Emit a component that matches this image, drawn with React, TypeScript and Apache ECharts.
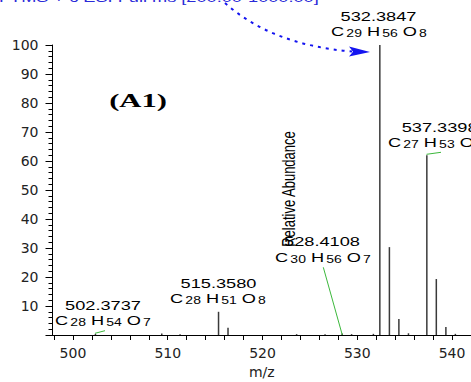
import React, { useEffect, useRef } from "react";
import * as echarts from "echarts";

// Peak list: m/z and relative abundance (%)
const peakMz = [502.37, 509.37, 511.3, 515.36, 516.36, 523.6, 526.6, 528.41, 529.4, 531.7, 532.38, 533.39, 534.39, 535.4, 537.34, 538.34, 539.35, 540.35];
const peakAbundance = [0.4, 0.5, 0.3, 8.0, 2.5, 0.3, 0.3, 0.5, 0.3, 0.4, 100, 30.3, 5.5, 0.6, 62, 19.3, 2.8, 0.4];

const xMin = 497.84;
const xMax = 542;
const xLabelValues = [500, 510, 520, 530, 540];
const xTickValues = [498, 500, 502, 504, 506, 508, 510, 512, 514, 516, 518, 520, 522, 524, 526, 528, 530, 532, 534, 536, 538, 540, 542];
const yMin = 0;
const yMax = 100;
const yStep = 10;

const annotationMasses = ["532.3847", "537.3398", "528.4108", "515.3580", "502.3737"];
const formulas = [
  ["29", "56", "8"],
  ["27", "53", "8"],
  ["30", "56", "7"],
  ["28", "51", "8"],
  ["28", "54", "7"],
];

const titleText = "FTMS + c ESI Full ms [200.00-1000.00]";
const panelLabel = "(A1)";
const yName = "Relative Abundance";
const xName = "m/z";

const FONT = "'Liberation Sans', Arial, sans-serif";
const AXFONT = "'DejaVu Sans', sans-serif";
const SX = 1.4;
const GRID = { left: 52.5, right: 0, top: 45, bottom: 47, containLabel: false, outerBoundsMode: "none" };

const rich = {
  n: { fontSize: 13, lineHeight: 15, fontFamily: FONT, fill: "#000", verticalAlign: "middle" },
  s: { fontSize: 10, lineHeight: 10, fontFamily: FONT, fill: "#000", verticalAlign: "bottom", padding: [0, 0, 0, 1.5] },
};

function formulaText(f: string[]) {
  return `{n|C}{s|${f[0]}}{n| H}{s|${f[1]}}{n| O}{s|${f[2]}}`;
}

function massLabel(text: string, x: number, y: number, align: string) {
  return {
    type: "text",
    x,
    y,
    scaleX: SX,
    z: 10,
    style: { text, fontSize: 13, fontFamily: FONT, fill: "#000", align, verticalAlign: "middle" },
  };
}

function formulaLabel(f: string[], x: number, y: number, align: string) {
  return {
    type: "text",
    x,
    y,
    scaleX: SX,
    z: 10,
    style: { text: formulaText(f), rich, align, verticalAlign: "middle", fontSize: 13, fontFamily: FONT },
  };
}

function greenLine(x1: number, y1: number, x2: number, y2: number) {
  return {
    type: "line",
    z: 9,
    shape: { x1, y1, x2, y2 },
    style: { stroke: "#3cb83c", lineWidth: 1 },
  };
}

export default function App() {
  const ref = useRef<HTMLDivElement>(null);
  const tickRef = useRef<HTMLDivElement>(null);

  useEffect(() => {
    if (!ref.current || !tickRef.current) return;
    const chart = echarts.init(ref.current, null, { renderer: "svg" });
    const data = peakMz.map((m, i) => [m, peakAbundance[i]]);

    chart.setOption({
      animation: false,
      backgroundColor: "#ffffff",
      grid: GRID,
      xAxis: {
        type: "value",
        min: xMin,
        max: xMax,
        name: xName,
        nameLocation: "middle",
        nameGap: 30,
        nameTextStyle: { fontFamily: AXFONT, fontSize: 14, color: "#222" },
        axisLine: { show: true, onZero: false, lineStyle: { color: "#000", width: 1 } },
        axisTick: { show: true, inside: false, customValues: xTickValues, length: 5, lineStyle: { color: "#000", width: 1 } },
        axisLabel: {
          show: true,
          customValues: xLabelValues,
          margin: 11,
          fontFamily: AXFONT,
          fontSize: 14,
          color: "#222",
        },
        splitLine: { show: false },
      },
      yAxis: {
        type: "value",
        min: yMin,
        max: yMax,
        interval: yStep,
        axisLine: { show: true, onZero: false, lineStyle: { color: "#000", width: 1 } },
        axisTick: { show: false },
        axisLabel: {
          show: true,
          margin: 14,
          fontFamily: AXFONT,
          fontSize: 14,
          color: "#222",
          formatter: (v: number) => (v === 0 ? "" : String(v)),
        },
        splitLine: { show: false },
      },
      series: [
        {
          type: "bar",
          data,
          barWidth: 1.5,
          itemStyle: { color: "#3a3a3a" },
        },
      ],
      graphic: [
        {
          type: "text",
          x: -1,
          y: -2.5,
          scaleX: SX,
          style: { text: titleText, fontSize: 13, fontFamily: FONT, fill: "#2a2ad8", align: "left", verticalAlign: "middle" },
        },
        {
          type: "bezierCurve",
          shape: { x1: 225, y1: 3, cpx1: 272, cpy1: 45, x2: 352, y2: 51.5 },
          style: { stroke: "#1414f0", lineWidth: 2, lineDash: [3, 5], fill: null },
        },
        {
          type: "polygon",
          shape: { points: [[349, 46.5], [370, 52], [349, 56.5], [353, 51.7]] },
          style: { fill: "#1414f0" },
        },
        {
          type: "text",
          x: 138,
          y: 101,
          scaleX: 1.7,
          style: {
            text: panelLabel,
            fontSize: 18,
            fontWeight: "bold",
            fontFamily: "'Liberation Serif', 'Times New Roman', serif",
            fill: "#000",
            align: "center",
            verticalAlign: "middle",
          },
        },
        {
          type: "group",
          x: 289,
          y: 189,
          scaleX: SX,
          z: 11,
          children: [
            {
              type: "text",
              x: 0,
              y: 0,
              rotation: Math.PI / 2,
              style: { text: yName, fontSize: 13, fontFamily: FONT, fill: "#000", align: "center", verticalAlign: "middle" },
            },
          ],
        },
        massLabel(annotationMasses[0], 378.5, 16, "center"),
        formulaLabel(formulas[0], 379, 31.5, "center"),
        massLabel(annotationMasses[1], 401.7, 127, "left"),
        formulaLabel(formulas[1], 388, 142, "left"),
        massLabel(annotationMasses[2], 322, 241, "center"),
        formulaLabel(formulas[2], 323, 257, "center"),
        massLabel(annotationMasses[3], 218.5, 283, "center"),
        formulaLabel(formulas[3], 218, 298, "center"),
        massLabel(annotationMasses[4], 103, 305, "center"),
        formulaLabel(formulas[4], 103, 320.5, "center"),
        greenLine(95, 333.3, 105, 330.7),
        greenLine(323.3, 267.3, 342.3, 335),
        greenLine(426.5, 154.3, 441, 152.3),
      ],
    });

    // Overlay chart carrying only the y-axis ticks (same grid and scales)
    const tickChart = echarts.init(tickRef.current, null, { renderer: "svg" });
    tickChart.setOption({
      animation: false,
      grid: GRID,
      xAxis: {
        type: "value",
        min: xMin,
        max: xMax,
        axisLine: { show: false },
        axisTick: { show: false },
        axisLabel: { show: false },
        splitLine: { show: true, lineStyle: { color: "rgba(0,0,0,0)" } },
      },
      yAxis: {
        type: "value",
        min: yMin,
        max: yMax,
        interval: yStep,
        axisLine: { show: false, onZero: false },
        axisTick: { show: true, inside: false, length: 7, lineStyle: { color: "#000", width: 1 } },
        minorTick: { show: true, splitNumber: 5, length: 4, lineStyle: { color: "#000", width: 1 } },
        axisLabel: { show: false },
        splitLine: { show: false },
      },
      series: [{ type: "line", data: [], silent: true }],
    });

    return () => {
      chart.dispose();
      tickChart.dispose();
    };
  }, []);

  return (
    <div style={{ position: "absolute", left: 0, top: 0, width: 471, height: 382 }}>
      <div ref={ref} style={{ width: 471, height: 382, position: "absolute", left: 0, top: 0 }} />
      <div ref={tickRef} style={{ width: 471, height: 382, position: "absolute", left: 0, top: 0, pointerEvents: "none" }} />
    </div>
  );
}
